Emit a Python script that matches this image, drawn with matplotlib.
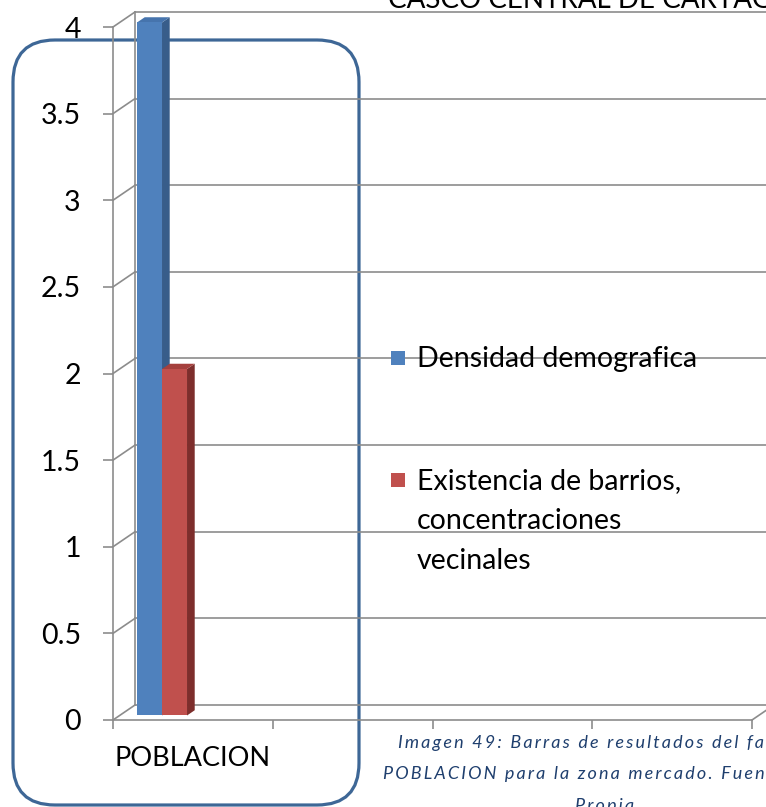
import numpy as np
import matplotlib.pyplot as plt
from matplotlib.patches import FancyBboxPatch, Polygon, Rectangle

categories = ['POBLACION']
series_names = ['Densidad demografica',
                'Existencia de barrios,\nconcentraciones\nvecinales']
densidad = [4]
barrios = [2]
y_ticks = [0, 0.5, 1, 1.5, 2, 2.5, 3, 3.5, 4]
y_tick_labels = ['0', '0.5', '1', '1.5', '2', '2.5', '3', '3.5', '4']
title = 'CASCO CENTRAL DE CARTAGO'
caption = ['Imagen 49: Barras de resultados del factor',
           'POBLACION para la zona mercado. Fuente:',
           'Propia']

plt.rcParams['font.family'] = ['Lato', 'DejaVu Sans']

W, H = 766, 807
GRID = '#8c8c8c'
fig = plt.figure(figsize=(W / 100, H / 100), dpi=100)
ax = fig.add_axes([113 / W, (H - 720) / H, (752 - 113) / W, 693 / H])
ax.patch.set_visible(False)
ax.set_xlim(0, 4)
ax.set_ylim(0, 4)

# depth of the 3d box, in data units
DX, DY = 0.1377, 0.0866


def depth(x, y, d):
    return x + d * DX, y + d * DY


def inch(x, y):
    return x / 100, (H - y) / 100


# back wall + floor
for v in y_ticks:
    ax.plot([DX, 4 + DX], [v + DY, v + DY], color=GRID, lw=1.2, clip_on=False, zorder=1)
    ax.plot([0, DX], [v, v + DY], color=GRID, lw=1.2, clip_on=False, zorder=1)
ax.plot([DX, DX], [DY, 4 + DY], color=GRID, lw=1.2, clip_on=False, zorder=1)
ax.plot([4, 4 + DX], [0, DY], color=GRID, lw=1.2, clip_on=False, zorder=1)


def bar3d(left, width, value, c_front, c_side, c_top, d0=0.3, d1=0.65):
    r = left + width
    front = [depth(left, 0, d0), depth(r, 0, d0), depth(r, value, d0), depth(left, value, d0)]
    side = [depth(r, 0, d0), depth(r, 0, d1), depth(r, value, d1), depth(r, value, d0)]
    top = [depth(left, value, d0), depth(r, value, d0), depth(r, value, d1), depth(left, value, d1)]
    for pts, c in [(side, c_side), (top, c_top), (front, c_front)]:
        ax.add_patch(Polygon(pts, closed=True, facecolor=c, edgecolor='none',
                             clip_on=False, zorder=3))


bw = 0.1565
for i, cat in enumerate(categories):
    bar3d(i + 0.109, bw, densidad[i], '#4f81bd', '#385d8a', '#4674ad')
    bar3d(i + 0.109 + bw, bw, barrios[i], '#c0504d', '#7d2e2c', '#a5403d')

for s in ['top', 'right']:
    ax.spines[s].set_visible(False)
for s in ['left', 'bottom']:
    ax.spines[s].set_color(GRID)
    ax.spines[s].set_linewidth(1.2)

ax.set_yticks(y_ticks, labels=y_tick_labels)
ax.tick_params(axis='y', length=7.2, width=1.2, color=GRID, pad=16, labelsize=20.5)
ax.set_xticks([0, 1, 2, 3, 4])
ax.tick_params(axis='x', which='major', length=6.5, width=1.2, color=GRID, labelbottom=False)
ax.set_xticks([i + 0.5 for i in range(len(categories))], labels=categories, minor=True)
ax.tick_params(axis='x', which='minor', length=0, pad=19, labelsize=19.5)

# rounded frame behind the chart
fig.add_artist(FancyBboxPatch(inch(13, 805), 3.46, 7.65,
                              boxstyle='round,pad=0,rounding_size=0.42',
                              transform=fig.dpi_scale_trans, facecolor='none',
                              edgecolor='#3e6796', lw=2.3, zorder=-1))

# legend
leg_colors = ['#4f81bd', '#c0504d']
leg_y = [358, 480]
for name, c, y in zip(series_names, leg_colors, leg_y):
    fig.add_artist(Rectangle(inch(391, y + 7), 0.14, 0.14, transform=fig.dpi_scale_trans,
                             facecolor=c, edgecolor='none', zorder=4))
    for k, line in enumerate(name.split('\n')):
        fig.text(417 / W, 1 - (y + 9 + k * 40) / H, line, fontsize=20.5,
                 va='baseline', ha='left', color='black', zorder=5)

fig.text(388 / W, 1 - 8 / H, title, fontsize=20, va='baseline', ha='left', color='black')

cap_x = [398, 383, 575]
cap_y = [748, 779, 811]
for line, x, y in zip(caption, cap_x, cap_y):
    fig.text(x / W, 1 - y / H, '\u2009'.join(line), fontsize=13, style='italic',
             va='baseline', ha='left', color='#1f3f6e')

fig.savefig('out.png', dpi=100)
